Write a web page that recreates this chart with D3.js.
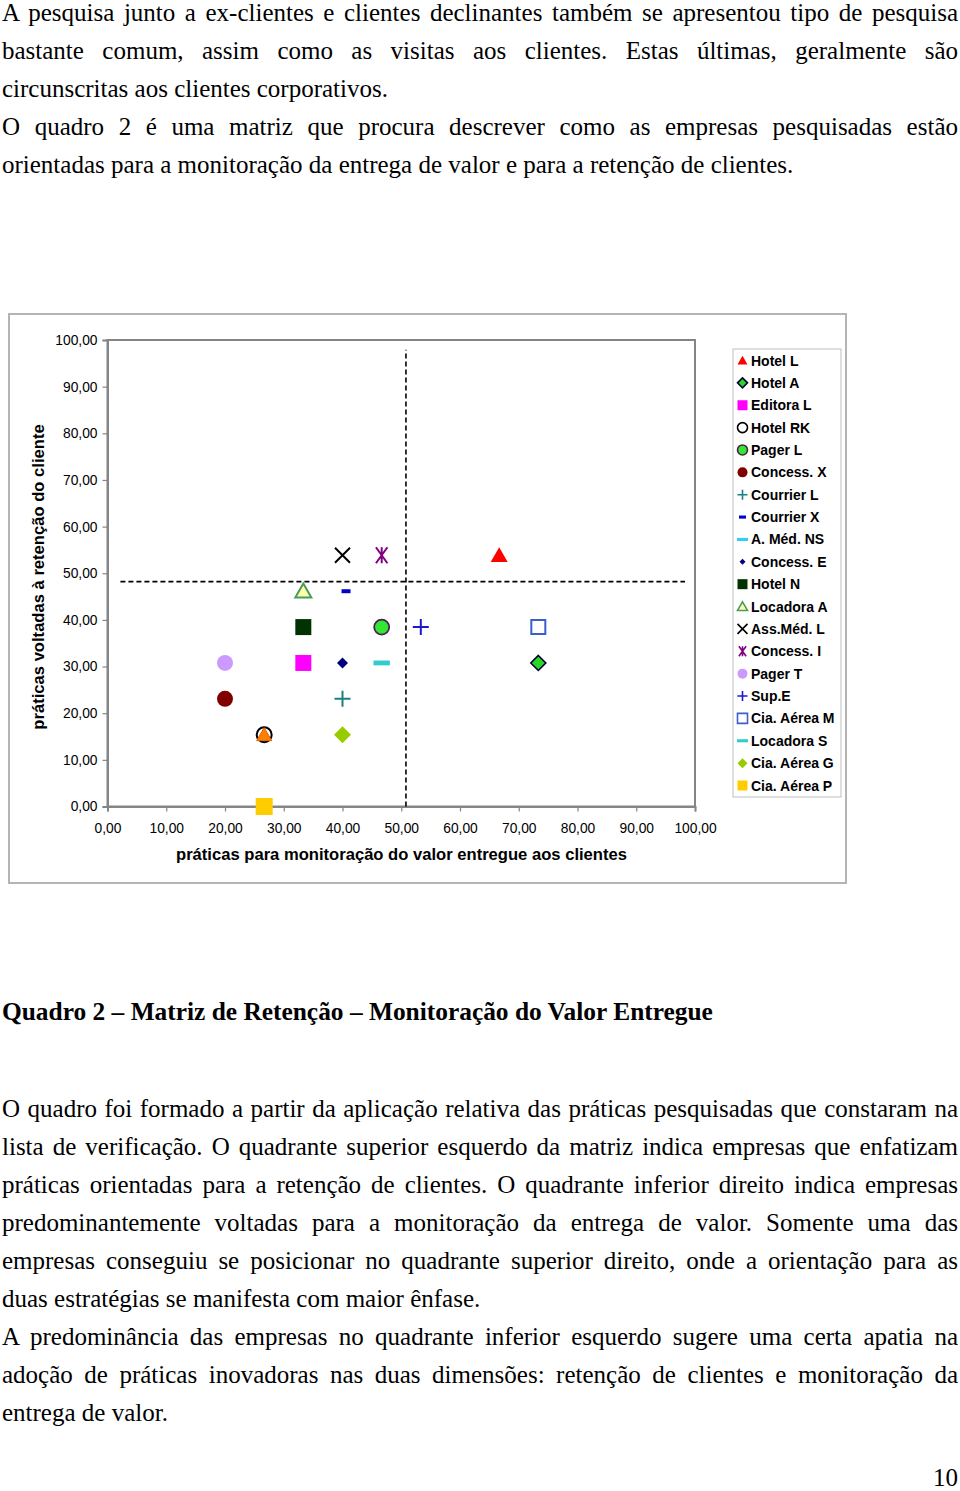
<!DOCTYPE html>
<html><head><meta charset="utf-8">
<script src="https://cdn.jsdelivr.net/npm/d3@7"></script>
<style>
body{margin:0;background:#fff;}
#page{position:relative;width:960px;height:1491px;overflow:hidden;background:#fff;}
.ln{position:absolute;left:2px;width:956px;font-family:"Liberation Serif","Times New Roman",serif;font-size:25px;line-height:25px;height:25px;color:#000;white-space:normal;}
.j{text-align:justify;text-align-last:justify;}
.cap{font-weight:bold;font-size:25.4px;}
.pn{height:23px;overflow:visible;}
svg{position:absolute;left:0;top:0;}
</style></head><body><div id="page"></div>
<script>
// ---------- data ----------
const categories = ["Hotel L","Hotel A","Editora L","Hotel RK","Pager L","Concess. X","Courrier L","Courrier X","A. Méd. NS","Concess. E","Hotel N","Locadora A","Ass.Méd. L","Concess. I","Pager T","Sup.E","Cia. Aérea M","Locadora S","Cia. Aérea G","Cia. Aérea P"];
const xValues = [66.67,73.33,33.33,26.67,46.67,20.00,40.00,40.60,46.67,40.00,33.33,33.33,40.00,46.67,20.00,53.33,73.33,46.67,40.00,26.67];
const yValues = [53.85,30.77,30.77,15.38,38.46,23.08,23.08,46.15,30.77,30.77,38.46,46.15,53.85,53.85,30.77,38.46,38.46,30.77,15.38,0.00];
// unlabeled series drawn in the chart but absent from the legend
const extraX = [26.67];
const extraY = [15.38];
// quadrant divider lines
const hLineX = [2.2, 98.3];
const hLineY = [48.2, 48.2];
const vLineX = [50.8, 50.8];
const vLineY = [0, 97.9];
const tickValues = [0,10,20,30,40,50,60,70,80,90,100];
const tickLabels = ["0,00","10,00","20,00","30,00","40,00","50,00","60,00","70,00","80,00","90,00","100,00"];
const xTitle = "práticas para monitoração do valor entregue aos clientes";
const yTitle = "práticas voltadas à retenção do cliente";

// ---------- styles ----------
const styles = [
 {shape:"triangle",size:17,fill:"#ff0000",stroke:"none",sw:0},
 {shape:"diamond",size:15,fill:"#2bd62b",stroke:"#000033",sw:1.6},
 {shape:"square",size:16,fill:"#ff00ff",stroke:"none",sw:0},
 {shape:"circle",size:15,fill:"none",stroke:"#000",sw:2},
 {shape:"circle",size:15,fill:"#33e833",stroke:"#4d2050",sw:1.8},
 {shape:"circle",size:16,fill:"#800000",stroke:"none",sw:0},
 {shape:"plus",size:16,fill:"none",stroke:"#1a8080",sw:2},
 {shape:"dash",size:9,th:4,fill:"#0000cc",stroke:"none",sw:0},
 {shape:"dash",size:16,th:4.5,fill:"#33ccff",stroke:"none",sw:0},
 {shape:"diamond",size:11,fill:"#000080",stroke:"none",sw:0},
 {shape:"square",size:16,fill:"#003300",stroke:"none",sw:0},
 {shape:"triangle",size:16,fill:"#ffffaa",stroke:"#4a9a60",sw:2},
 {shape:"x",size:15,fill:"none",stroke:"#000",sw:2},
 {shape:"asterisk",size:16,fill:"none",stroke:"#800080",sw:2},
 {shape:"circle",size:16,fill:"#cc99ff",stroke:"none",sw:0},
 {shape:"plus",size:16,fill:"none",stroke:"#1a1acc",sw:2},
 {shape:"square",size:14,fill:"#fff",stroke:"#3b5fcf",sw:2},
 {shape:"dash",size:16,th:4.5,fill:"#33cccc",stroke:"none",sw:0},
 {shape:"diamond",size:17,fill:"#99cc00",stroke:"none",sw:0},
 {shape:"square",size:17,fill:"#ffcc00",stroke:"none",sw:0}
];
const extraStyle = {shape:"triangle",size:15,fill:"#ff8000",stroke:"#e06000",sw:1};

function markerPath(st, s){
  const h = s/2;
  switch(st.shape){
    case "triangle": return `M0,${-h*0.95}L${h},${h*0.78}L${-h},${h*0.78}Z`;
    case "square": return `M${-h},${-h}H${h}V${h}H${-h}Z`;
    case "diamond": return `M0,${-h}L${h},0L0,${h}L${-h},0Z`;
    case "circle": return `M${h},0A${h},${h} 0 1,1 ${-h},0A${h},${h} 0 1,1 ${h},0Z`;
    case "plus": return `M${-h},0H${h}M0,${-h}V${h}`;
    case "x": return `M${-h},${-h}L${h},${h}M${h},${-h}L${-h},${h}`;
    case "asterisk": { const a=h*0.72; return `M${-a},${-h}L${a},${h}M${a},${-h}L${-a},${h}M0,${-h}V${h}`; }
    case "dash": { const t=(st.th||4)/2*(s/st.size); return `M${-h},${-t}H${h}V${t}H${-h}Z`; }
  }
}

const page = d3.select("#page");

// ---------- text ----------
const topLines = [
 ["A pesquisa junto a ex-clientes e clientes declinantes também se apresentou tipo de pesquisa",true],
 ["bastante comum, assim como as visitas aos clientes. Estas últimas, geralmente são",true],
 ["circunscritas aos clientes corporativos.",false],
 ["O quadro 2 é uma matriz que procura descrever como as empresas pesquisadas estão",true],
 ["orientadas para a monitoração da entrega de valor e para a retenção de clientes.",false]
];
const bottomLines = [
 ["O quadro foi formado a partir da aplicação relativa das práticas pesquisadas que constaram na",true],
 ["lista de verificação. O quadrante superior esquerdo da matriz indica empresas que enfatizam",true],
 ["práticas orientadas para a retenção de clientes. O quadrante inferior direito indica empresas",true],
 ["predominantemente voltadas para a monitoração da entrega de valor. Somente uma das",true],
 ["empresas conseguiu se posicionar no quadrante superior direito, onde a orientação para as",true],
 ["duas estratégias se manifesta com maior ênfase.",false],
 ["A predominância das empresas no quadrante inferior esquerdo sugere uma certa apatia na",true],
 ["adoção de práticas inovadoras nas duas dimensões: retenção de clientes e monitoração da",true],
 ["entrega de valor.",false]
];
function addLines(lines, baseline0){
  lines.forEach((l,i)=>{
    page.append("div").attr("class","ln"+(l[1]?" j":""))
      .style("top",(baseline0 + i*38 - 21)+"px").text(l[0]);
  });
}
addLines(topLines, 21);
addLines(bottomLines, 1117);
page.append("div").attr("class","ln cap").style("top",(1020-21)+"px")
  .text("Quadro 2 – Matriz de Retenção – Monitoração do Valor Entregue");
page.append("div").attr("class","ln pn").style("top",(1486-21)+"px").style("text-align","right").text("10");

// ---------- chart ----------
const svg = page.append("svg").attr("width",960).attr("height",900);
svg.append("rect").attr("x",9).attr("y",314).attr("width",837).attr("height",569)
  .attr("fill","#fff").attr("stroke","#b4b4b4").attr("stroke-width",2);

const x = d3.scaleLinear().domain([0,100]).range([107.5,695]);
const y = d3.scaleLinear().domain([0,100]).range([806.5,340]);
const sans = "'Liberation Sans', Arial, sans-serif";

// plot frame
svg.append("rect").attr("x",x(0)).attr("y",y(100)).attr("width",x(100)-x(0)).attr("height",y(0)-y(100))
  .attr("fill","#fff").attr("stroke","#858585").attr("stroke-width",2);

const xAxis = d3.axisBottom(x).tickValues(tickValues).tickSize(5).tickPadding(12)
  .tickFormat((d,i)=>tickLabels[i]);
const yAxis = d3.axisLeft(y).tickValues(tickValues).tickSize(5).tickPadding(5)
  .tickFormat((d,i)=>tickLabels[i]);
const gx = svg.append("g").attr("transform",`translate(0,${y(0)})`).call(xAxis);
const gy = svg.append("g").attr("transform",`translate(${x(0)},0)`).call(yAxis);
[gx,gy].forEach(g=>{
  g.select(".domain").attr("stroke","#858585").attr("stroke-width",2);
  g.selectAll(".tick line").attr("stroke","#858585").attr("stroke-width",1.2);
  g.selectAll("text").attr("fill","#000").style("font-family",sans).style("font-size","13.8px");
});
gx.selectAll(".tick text").attr("dy","0.71em");

svg.append("text").attr("x",401.5).attr("y",859.5).attr("text-anchor","middle")
  .style("font-family",sans).style("font-size","16.6px").style("font-weight","bold").text(xTitle);
svg.append("text").attr("transform","translate(43.5,577) rotate(-90)").attr("text-anchor","middle")
  .style("font-family",sans).style("font-size","16.6px").style("font-weight","bold").text(yTitle);

// quadrant lines
const line = d3.line().x(d=>x(d[0])).y(d=>y(d[1]));
svg.append("path").attr("d",line(d3.zip(hLineX,hLineY))).attr("fill","none")
  .attr("stroke","#000").attr("stroke-width",1.6).attr("stroke-dasharray","5,3");
svg.append("path").attr("d",line(d3.zip(vLineX,vLineY))).attr("fill","none")
  .attr("stroke","#000").attr("stroke-width",1.6).attr("stroke-dasharray","5,3");

// points
function drawPoint(g, st, px, py, s){
  g.append("path").attr("transform",`translate(${px},${py})`).attr("d",markerPath(st,s))
    .attr("fill",st.fill).attr("stroke",st.stroke).attr("stroke-width",st.sw);
}
const pts = svg.append("g");
categories.forEach((c,i)=>{
  drawPoint(pts, styles[i], x(xValues[i]), y(yValues[i]), styles[i].size);
  if(c==="Hotel RK"){
    extraX.forEach((v,k)=>drawPoint(pts, extraStyle, x(v), y(extraY[k]), extraStyle.size));
  }
});

// legend
const lg = svg.append("g");
lg.append("rect").attr("x",733).attr("y",349).attr("width",108).attr("height",448)
  .attr("fill","#fff").attr("stroke","#bdbdbd").attr("stroke-width",1);
const ly = d3.scalePoint().domain(categories).range([360.5,785.5]);
categories.forEach((c,i)=>{
  const st = styles[i];
  const ms = st.shape==="dash" ? (st.size<12?7:11) : (st.shape==="diamond"&&st.size<12?6:10);
  const sty = Object.assign({}, st, {sw: st.sw? Math.min(st.sw,1.6):0});
  drawPoint(lg, sty, 742.5, ly(c), ms);
  lg.append("text").attr("x",751).attr("y",ly(c)).attr("dy","0.36em")
    .style("font-family",sans).style("font-size","14px").style("font-weight","bold").text(c);
});
</script></body></html>
